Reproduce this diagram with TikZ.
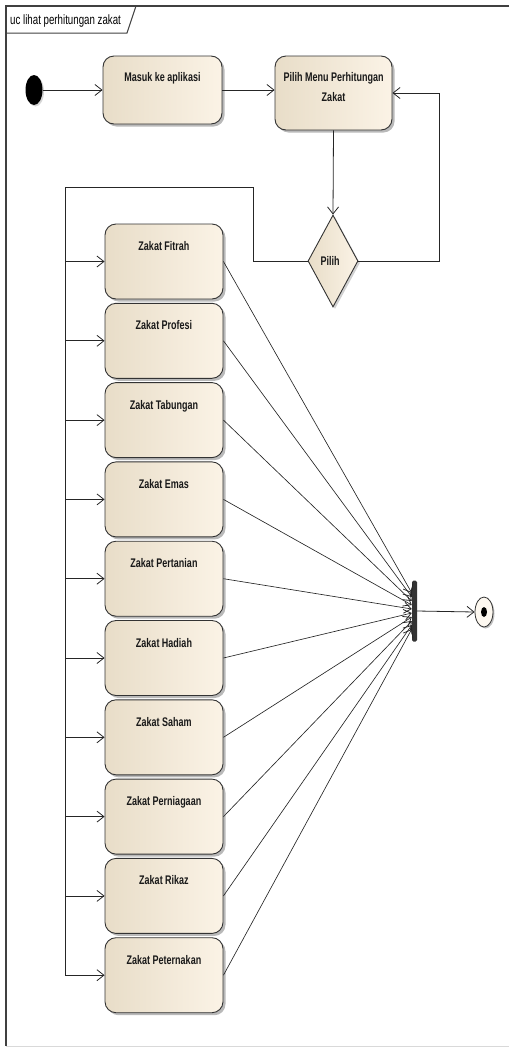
\documentclass[tikz,border=0pt]{standalone}
\usepackage{fontspec}
\setmainfont{Liberation Sans}
\newfontfamily\boxfont[FakeStretch=0.72]{Liberation Sans}
\usetikzlibrary{arrows.meta,shapes.geometric,shadows,calc}
\definecolor{boxL}{HTML}{E8DDC8}
\definecolor{boxR}{HTML}{FBF3E6}
\definecolor{edge}{HTML}{333333}
\definecolor{lnc}{HTML}{262626}
\tikzset{
  actbox/.style={draw=edge, line width=0.9pt, rounded corners=11pt, left color=boxL, right color=boxR,
    minimum width=118pt, minimum height=75pt, inner sep=0pt,
    drop shadow={shadow xshift=2.5pt, shadow yshift=-2.5pt, fill=black!50, opacity=0.55}},
  txt/.style={font=\boxfont\bfseries\fontsize{12.5}{15}\selectfont, text=black!90, anchor=base, inner sep=0pt},
  flow/.style={draw=lnc, line width=0.8pt, -{Straight Barb[length=7pt,width=11pt,line width=0.8pt]}},
  plain/.style={draw=lnc, line width=0.8pt},
}
\begin{document}
\begin{tikzpicture}[x=1pt,y=-1pt]
\useasboundingbox (0,0) rectangle (509,1047);
% frame
\draw[black!75, line width=1.2pt] (509,6) -- (6,6) -- (6,1046);
\draw[black!15, line width=0.8pt] (6,1046) -- (509,1046);
\draw[black!75, line width=1pt] (136,6) -- (127,33) -- (6,33);
\node[font=\boxfont\fontsize{13.5}{16}\selectfont, anchor=base west, inner sep=0pt] (title) at (10,24) {uc lihat perhitungan zakat};

% initial node
\node[ellipse, fill=black, minimum width=17pt, minimum height=30pt, inner sep=0pt,
  drop shadow={shadow xshift=1.5pt, shadow yshift=-1.5pt, fill=black!40, opacity=0.4}] (init) at (34,90) {};

% top boxes
\node[actbox, minimum width=119pt, minimum height=68pt] (masuk) at (162.5,90) {};
\path (masuk.north) ++(0,26) node[txt] (masukT) {Masuk ke aplikasi};
\node[actbox, minimum width=117pt, minimum height=74pt] (menu) at (333.5,93) {};
\path (menu.north) ++(0,26) node[txt] (menuT1) {Pilih Menu Perhitungan};
\path (menu.north) ++(0,46) node[txt] (menuT2) {Zakat};

% decision
\node[diamond, draw=edge, line width=0.9pt, left color=boxL, right color=boxR, minimum width=50pt, minimum height=92pt, inner sep=0pt, aspect=0.54,
  drop shadow={shadow xshift=2pt, shadow yshift=-2pt, fill=black!40, opacity=0.45}] (dec) at (333,261) {};
\node[txt, anchor=base] (decT) at (330,265) {Pilih};

% zakat boxes
\foreach \n/\t [count=\i from 0] in {fitrah/Zakat Fitrah, profesi/Zakat Profesi, tabungan/Zakat Tabungan, emas/Zakat Emas, pertanian/Zakat Pertanian, hadiah/Zakat Hadiah, saham/Zakat Saham, perniagaan/Zakat Perniagaan, rikaz/Zakat Rikaz, peternakan/Zakat Peternakan}{
  \node[actbox] (\n) at (164,{261.5+79.3*\i}) {};
  \path (\n.north) ++(0,27) node[txt] (\n T) {\t};
}

% join bar and final node
\node[fill=black!80, rounded corners=1.5pt, minimum width=5pt, minimum height=61pt, inner sep=0pt] (bar) at (414.5,611) {};
\node[ellipse, draw=edge, line width=0.8pt, fill=boxR!60!white, minimum width=18pt, minimum height=30pt, inner sep=0pt,
  drop shadow={shadow xshift=1.5pt, shadow yshift=-1.5pt, fill=black!50, opacity=0.5}] (final) at (484,612) {};
\node[ellipse, fill=black, minimum width=6pt, minimum height=10pt, inner sep=0pt] (finaldot) at (final.center) {};

% connectors top
\draw[flow] (init.east) -- (masuk.west);
\draw[flow] (masuk.east) -- (masuk.east -| menu.west);
\draw[flow] (menu.south) -- (dec.north);
\coordinate (rcorner) at (439,261);
\draw[flow] (dec.east) -- (rcorner) |- (menu.east);
\coordinate (lA) at (253,261);
\coordinate (lB) at (253,187);
\coordinate (lC) at (65,187);
\draw[plain] (dec.west) -- (lA) -- (lB) -- (lC) -- (lC |- peternakan.west);

% branches
\foreach \n in {fitrah,profesi,tabungan,emas,pertanian,hadiah,saham,perniagaan,rikaz,peternakan}{
  \draw[flow] (lC |- \n.west) -- (\n.west);
}
% to join bar
\foreach \n [count=\i from 0] in {fitrah,profesi,tabungan,emas,pertanian,hadiah,saham,perniagaan,rikaz,peternakan}{
  \draw[flow, line width=0.65pt] (\n.east) -- ($(bar.west)+(0,{-18+4*\i})$);
}
\draw[flow] (bar.east) -- (final.west);
\end{tikzpicture}
\end{document}
